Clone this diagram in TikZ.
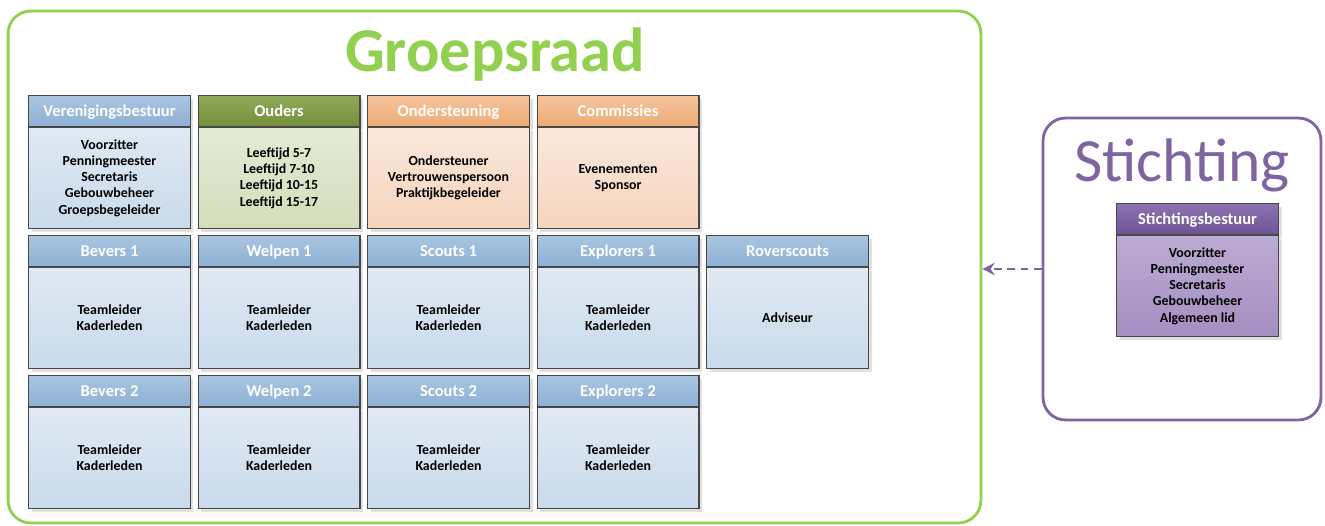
\documentclass[tikz,border=0pt]{standalone}
\usepackage{fontspec}
\setmainfont{Carlito}
\usetikzlibrary{positioning,shadows,arrows.meta}

\definecolor{rand}{HTML}{474747}
\definecolor{groenrand}{HTML}{92D050}
\definecolor{paarsrand}{HTML}{8064A2}
% kop = header, lijf = body
\definecolor{kop1blauw}{HTML}{A9C5E1}
\definecolor{kop2blauw}{HTML}{8DB0D5}
\definecolor{lijf1blauw}{HTML}{DFE9F3}
\definecolor{lijf2blauw}{HTML}{C9DAEB}
\definecolor{kop1groen}{HTML}{90A958}
\definecolor{kop2groen}{HTML}{748F3B}
\definecolor{lijf1groen}{HTML}{E3EBD6}
\definecolor{lijf2groen}{HTML}{D3DDB9}
\definecolor{kop1oranje}{HTML}{F5C49C}
\definecolor{kop2oranje}{HTML}{EEAB75}
\definecolor{lijf1oranje}{HTML}{FBE8DB}
\definecolor{lijf2oranje}{HTML}{F6D4BC}
\definecolor{kop1paars}{HTML}{8C72B0}
\definecolor{kop2paars}{HTML}{6C5494}
\definecolor{lijf1paars}{HTML}{BCABD3}
\definecolor{lijf2paars}{HTML}{A48EC1}

\tikzset{
  schaduw/.style={drop shadow={shadow xshift=0.06cm, shadow yshift=-0.06cm,
      fill=black, opacity=0.12}},
  kop/.style={draw=rand, line width=0.6pt, top color=kop1#1, bottom color=kop2#1,
    text=white, font=\bfseries\fontsize{9.4}{11}\selectfont,
    text height=6pt, text depth=0pt,
    minimum width=3.24cm, minimum height=0.62cm, inner sep=0pt,
    anchor=north west, schaduw},
  lijf/.style={draw=rand, line width=0.6pt, top color=lijf1#1, bottom color=lijf2#1,
    font=\bfseries\fontsize{7.9}{9.2}\selectfont, align=center,
    minimum width=3.24cm, minimum height=2.02cm, inner sep=0pt, schaduw},
  kader/.style={draw=#1rand, line width=1.6pt, rounded corners=0.45cm, fill=white},
}

\begin{document}
\begin{tikzpicture}[x=0.02cm, y=-0.02cm]
  \useasboundingbox (0,0) rectangle (1325,525);

  % de twee kaders
  \node[kader=groen, minimum width=19.46cm, minimum height=10.24cm]
    (groepsraad) at (494.5,267) {};
  \node[kader=paars, minimum width=5.56cm, minimum height=6.04cm]
    (stichting) at (1182,269) {};

  \node[font=\bfseries\fontsize{35.5}{40}\selectfont, text=groenrand]
    (groepsraad-titel) at (495,55) {Groepsraad};
  \node[font=\fontsize{35}{40}\selectfont, text=paarsrand]
    (stichting-titel) at (1182,165) {Stichting};

  % blokken van de groepsraad
  \foreach \nm/\k/\r/\kl/\titel/\lijst in {
      vb/0/0/blauw/Verenigingsbestuur/Voorzitter\\Penningmeester\\Secretaris\\Gebouwbeheer\\Groepsbegeleider,
      ou/1/0/groen/Ouders/Leeftijd 5-7\\Leeftijd 7-10\\Leeftijd 10-15\\Leeftijd 15-17,
      os/2/0/oranje/Ondersteuning/Ondersteuner\\Vertrouwenspersoon\\Praktijkbegeleider,
      co/3/0/oranje/Commissies/Evenementen\\Sponsor,
      be1/0/1/blauw/Bevers 1/Teamleider\\Kaderleden,
      we1/1/1/blauw/Welpen 1/Teamleider\\Kaderleden,
      sc1/2/1/blauw/Scouts 1/Teamleider\\Kaderleden,
      ex1/3/1/blauw/Explorers 1/Teamleider\\Kaderleden,
      ro/4/1/blauw/Roverscouts/Adviseur,
      be2/0/2/blauw/Bevers 2/Teamleider\\Kaderleden,
      we2/1/2/blauw/Welpen 2/Teamleider\\Kaderleden,
      sc2/2/2/blauw/Scouts 2/Teamleider\\Kaderleden,
      ex2/3/2/blauw/Explorers 2/Teamleider\\Kaderleden}
  {
    \node[kop=\kl] (\nm-kop) at (28+169.5*\k, 95+140*\r) {\titel};
    \node[lijf=\kl, below=0pt of \nm-kop] (\nm) {\lijst};
  }

  % stichtingsbestuur
  \node[kop=paars] (sb-kop) at (1116,203) {Stichtingsbestuur};
  \node[lijf=paars, below=0pt of sb-kop] (sb)
    {Voorzitter\\Penningmeester\\Secretaris\\Gebouwbeheer\\Algemeen lid};

  \draw[paarsrand, line width=1.5pt, dash pattern=on 4.5pt off 3pt,
        -{Stealth[length=7pt, width=7pt]}]
    (stichting.west) -- (stichting.west -| groepsraad.east);
\end{tikzpicture}
\end{document}
